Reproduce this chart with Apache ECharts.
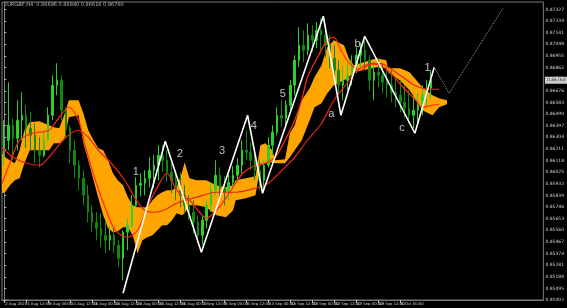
<!DOCTYPE html>
<html><head><meta charset="utf-8">
<script src="https://cdn.jsdelivr.net/npm/echarts@6/dist/echarts.min.js"></script>
<style>html,body{margin:0;padding:0;background:#000;}#c{width:567px;height:308px;}</style>
</head><body><div id="c"></div>
<script>
// ---- data (12h bars) ----
const titleText = 'EURGBP,H4  0.86696 0.86840 0.86616 0.86760';
const tickLabels = ['2 Aug 2023','4 Aug 12:00','9 Aug 00:00','11 Aug 12:00','16 Aug 00:00','18 Aug 12:00','23 Aug 00:00','25 Aug 12:00','30 Aug 00:00','1 Sep 12:00','6 Sep 00:00','8 Sep 12:00','13 Sep 00:00','15 Sep 12:00','20 Sep 00:00','22 Sep 12:00','27 Sep 00:00','29 Sep 12:00','4 Oct 00:00','6 Oct 12:00'];
const barCount = 123;
const barOpen = [0.86200,0.86280,0.86400,0.86296,0.86440,0.86480,0.86376,0.86320,0.86200,0.86160,
0.86280,0.86480,0.86720,0.86760,0.86520,0.86376,0.86200,0.86080,0.85976,0.85840,
0.85704,0.85624,0.85576,0.85520,0.85480,0.85520,0.85440,0.85336,0.85544,0.85600,
0.85760,0.85920,0.85936,0.85976,0.86040,0.86080,0.86160,0.86120,0.86024,0.85960,
0.85880,0.85840,0.85760,0.85704,0.85624,0.85520,0.85640,0.85760,0.85880,0.86000,
0.85896,0.85864,0.85944,0.86000,0.86080,0.86200,0.86184,0.86120,0.86040,0.85960,
0.86080,0.86240,0.86344,0.86480,0.86456,0.86560,0.86720,0.86920,0.87040,0.87000,
0.87120,0.87080,0.87160,0.87120,0.87040,0.86936,0.86840,0.86720,0.86760,0.86800,
0.86880,0.86960,0.87000,0.86920,0.86760,0.86824,0.86800,0.86744,0.86720,0.86664,
0.86640,0.86584,0.86536,0.86480,0.86520,0.86560,0.86640,0.86696];
const barClose = [0.86280,0.86400,0.86296,0.86440,0.86480,0.86376,0.86320,0.86200,0.86160,0.86280,
0.86480,0.86720,0.86760,0.86520,0.86376,0.86200,0.86080,0.85976,0.85840,0.85704,
0.85624,0.85576,0.85520,0.85480,0.85520,0.85440,0.85336,0.85544,0.85600,0.85760,
0.85920,0.85936,0.85976,0.86040,0.86080,0.86160,0.86120,0.86024,0.85960,0.85880,
0.85840,0.85760,0.85704,0.85624,0.85520,0.85640,0.85760,0.85880,0.86000,0.85896,
0.85864,0.85944,0.86000,0.86080,0.86200,0.86184,0.86120,0.86040,0.85960,0.86080,
0.86240,0.86344,0.86480,0.86456,0.86560,0.86720,0.86920,0.87040,0.87000,0.87120,
0.87080,0.87160,0.87120,0.87040,0.86936,0.86840,0.86720,0.86760,0.86800,0.86880,
0.86960,0.87000,0.86920,0.86760,0.86824,0.86800,0.86744,0.86720,0.86664,0.86640,
0.86584,0.86536,0.86480,0.86520,0.86560,0.86640,0.86696,0.86760];
const barLow = [0.86080,0.86200,0.86120,0.86200,0.86280,0.86216,0.86200,0.86096,0.86064,0.86144,
0.86280,0.86440,0.86640,0.86440,0.86304,0.86096,0.85976,0.85880,0.85760,0.85624,
0.85544,0.85480,0.85424,0.85376,0.85400,0.85376,0.85264,0.85160,0.85400,0.85576,
0.85744,0.85832,0.85840,0.85904,0.85896,0.85960,0.86024,0.85944,0.85856,0.85800,
0.85744,0.85696,0.85640,0.85536,0.85456,0.85440,0.85576,0.85704,0.85840,0.85816,
0.85760,0.85800,0.85880,0.85944,0.86016,0.86120,0.86040,0.85960,0.85880,0.85864,
0.86064,0.86160,0.86320,0.86384,0.86376,0.86520,0.86640,0.86864,0.86904,0.86960,
0.86984,0.87016,0.87000,0.86944,0.86856,0.86760,0.86640,0.86600,0.86680,0.86720,
0.86816,0.86864,0.86840,0.86680,0.86600,0.86704,0.86656,0.86624,0.86584,0.86544,
0.86504,0.86456,0.86416,0.86376,0.86400,0.86480,0.86560,0.86616];
const barHigh = [0.86440,0.86744,0.86456,0.86600,0.86664,0.86560,0.86504,0.86416,0.86304,0.86360,
0.86544,0.86800,0.86896,0.86800,0.86544,0.86400,0.86280,0.86120,0.86040,0.85920,
0.85760,0.85704,0.85696,0.85640,0.85592,0.85584,0.85480,0.85560,0.85656,0.85840,
0.85984,0.86016,0.86040,0.86144,0.86160,0.86240,0.86240,0.86200,0.86096,0.86024,
0.86024,0.85920,0.85840,0.85800,0.85680,0.85680,0.85800,0.85944,0.86120,0.86064,
0.85992,0.86016,0.86072,0.86136,0.86280,0.86360,0.86264,0.86176,0.86120,0.86120,
0.86304,0.86400,0.86544,0.86600,0.86600,0.86760,0.86960,0.87184,0.87160,0.87216,
0.87200,0.87224,0.87256,0.87200,0.87120,0.87040,0.86920,0.86872,0.86904,0.86960,
0.87024,0.87064,0.87080,0.86960,0.86904,0.86936,0.86896,0.86864,0.86840,0.86784,
0.86760,0.86720,0.86680,0.86640,0.86656,0.86720,0.86760,0.86840];

// fast red line (bar index, price)
const fastX = [-0.5,1.3,3.5,6.4,10.2,12.5,14.7,16.9,18.5,20.7,22.9,25.2,28.1,30.3,32.5,34.8,37.0,39.2,42.1,44.4,45.9,48.8,51.1,54.2,57.1,59.3,61.6,63.8,66.0,67.6,68.9,71.2,73.4,74.9,76.5,77.9,79.4,81.0,83.2,85.4,87.7,90.6,93.5,95.0,97.3,98.8];
const fastY = [0.85936,0.86096,0.86280,0.86336,0.86360,0.86464,0.86544,0.86440,0.86224,0.85960,0.85744,0.85560,0.85504,0.85560,0.85744,0.85904,0.86016,0.85880,0.85800,0.85704,0.85656,0.85744,0.85856,0.86016,0.86080,0.86096,0.86144,0.86280,0.86440,0.86600,0.86784,0.86944,0.87080,0.87104,0.87000,0.86920,0.86864,0.86840,0.86888,0.86880,0.86824,0.86704,0.86600,0.86544,0.86560,0.86568];
// slow red line
const slowX = [-0.5,2.0,5.1,8.0,10.9,14.0,16.9,19.1,21.4,24.3,27.4,29.6,31.9,34.1,36.3,39.2,43.7,48.2,52.6,57.1,60.0,63.1,66.0,68.9,72.1,74.9,77.9,79.4,81.6,83.9,86.1,88.3,90.6,92.8,95.0,97.3,98.8];
const slowY = [0.86224,0.86144,0.86096,0.86080,0.86176,0.86304,0.86360,0.86304,0.86200,0.86096,0.85960,0.85824,0.85720,0.85704,0.85720,0.85776,0.85824,0.85864,0.85864,0.85896,0.85936,0.86040,0.86144,0.86280,0.86416,0.86600,0.86736,0.86816,0.86872,0.86896,0.86888,0.86840,0.86784,0.86728,0.86696,0.86688,0.86688];
// cloud (kumo) edges
const cloudX = [-0.5,0.2,1.3,2.4,3.5,4.6,5.8,8.0,10.2,11.3,12.5,13.6,14.7,16.9,18.0,19.1,20.3,21.4,22.5,23.6,24.7,25.8,27.0,28.1,29.2,30.3,31.4,32.5,33.7,34.8,35.9,37.0,38.1,39.2,40.4,41.0,42.1,43.7,45.9,48.2,50.4,52.0,52.6,54.9,57.1,58.2,59.3,60.9,61.6,63.8,64.9,66.0,67.6,69.4,70.5,72.1,73.4,74.9,77.2,78.3,79.4,84.6,86.8,87.2,89.9,92.1,95.0,97.3,98.8,100.6];
const cloudUpper = [0.86176,0.86144,0.86120,0.86096,0.86200,0.86360,0.86424,0.86432,0.86400,0.86384,0.86376,0.86480,0.86600,0.86600,0.86496,0.86360,0.86280,0.86216,0.86200,0.86120,0.86016,0.85960,0.85920,0.85824,0.85760,0.85744,0.85744,0.85744,0.85800,0.85840,0.85864,0.85880,0.85880,0.85904,0.86024,0.86104,0.85976,0.85960,0.85960,0.85920,0.85904,0.85920,0.85960,0.85976,0.85992,0.86240,0.86256,0.86200,0.86120,0.86128,0.86336,0.86400,0.86600,0.86696,0.86784,0.86880,0.87024,0.87080,0.87040,0.86936,0.86880,0.86936,0.86920,0.86856,0.86856,0.86824,0.86704,0.86640,0.86616,0.86600];
const cloudLower = [0.85856,0.85864,0.85920,0.85960,0.85976,0.86096,0.86200,0.86200,0.86200,0.86256,0.86256,0.86280,0.86464,0.86480,0.86256,0.86120,0.85960,0.85816,0.85680,0.85576,0.85544,0.85552,0.85584,0.85584,0.85520,0.85376,0.85480,0.85504,0.85520,0.85560,0.85600,0.85600,0.85640,0.85696,0.85680,0.85696,0.85760,0.85760,0.85744,0.85680,0.85664,0.85720,0.85800,0.85816,0.85840,0.86080,0.86096,0.86104,0.86096,0.86096,0.86144,0.86200,0.86280,0.86440,0.86544,0.86576,0.86656,0.86720,0.86760,0.86784,0.86824,0.86864,0.86856,0.86824,0.86760,0.86680,0.86520,0.86480,0.86544,0.86568];
// wave zigzag and projection
const waveX = [27.0,36.6,44.8,55.3,58.7,72.5,76.5,81.9,93.3,97.7];
const waveY = [0.85056,0.86272,0.85384,0.86480,0.85856,0.87272,0.86480,0.87112,0.86336,0.86864];
const projX = [97.7,101.1,113.3];
const projY = [0.86864,0.86656,0.87336];
const waveLabelText = ['1','2','3','4','5','a','b','c','1'];
const waveLabelX = [29.9,39.9,49.5,56.7,63.3,74.3,80.3,90.4,96.2];
const waveLabelY = [0.86024,0.86168,0.86192,0.86392,0.86648,0.86488,0.87048,0.86376,0.86856];
const yMin = 0.85002, yMax = 0.87386, yStep = 0.00093;

// ---- chart ----
const categories = Array.from({length: barCount}, (_, i) => String(i));
const candles = barOpen.map((o, i) => [o, barClose[i], barLow[i], barHigh[i]]);
const pairs = (xs, ys) => xs.map((x, i) => [x, ys[i]]);
const showTick = (i) => i % 5 === 0 && i / 5 < tickLabels.length;
const lastClose = barClose[barClose.length - 1];

const chart = echarts.init(document.getElementById('c'), null, {renderer: 'canvas'});
chart.setOption({
  animation: false,
  backgroundColor: '#000000',
  textStyle: {fontFamily: 'DejaVu Sans'},
  grid: {left: 2, right: 14, top: 2, bottom: 8, show: true, borderColor: '#7a7a7a', borderWidth: 1, backgroundColor: '#000'},
  graphic: [{type: 'text', left: 4, top: 2, style: {text: titleText, fill: '#b8b8b8', fontSize: 5, fontFamily: 'DejaVu Sans'}}],
  xAxis: [{
    type: 'category', data: categories, boundaryGap: true,
    axisLine: {show: true, lineStyle: {color: '#7a7a7a'}},
    axisTick: {show: true, alignWithLabel: true, interval: showTick, length: 3, lineStyle: {color: '#bdbdbd'}},
    axisLabel: {interval: showTick, formatter: (v, i) => tickLabels[i / 5] || '', align: 'left', fontSize: 3.8, color: '#d0d0d0', margin: 2, padding: [0, 0, 0, 1], hideOverlap: false, showMinLabel: true},
    splitLine: {show: false}
  }, {
    type: 'value', min: -0.5, max: barCount - 0.5, show: false
  }],
  yAxis: {
    type: 'value', position: 'right', min: yMin, max: yMax, interval: yStep,
    axisLine: {show: true, lineStyle: {color: '#7a7a7a'}},
    axisTick: {show: true, length: 2, lineStyle: {color: '#bdbdbd'}},
    splitLine: {show: false},
    axisLabel: {color: '#d0d0d0', fontSize: 4.5, margin: 2, showMaxLabel: false, formatter: v => v.toFixed(5)}
  },
  series: [
    {
      type: 'custom', xAxisIndex: 1, z: 1, silent: true, data: [[50, 0.86]],
      renderItem: (params, api) => {
        const pts = [];
        for (let k = 0; k < cloudX.length; k++) pts.push(api.coord([cloudX[k], cloudUpper[k]]));
        for (let k = cloudX.length - 1; k >= 0; k--) pts.push(api.coord([cloudX[k], cloudLower[k]]));
        return {type: 'polygon', shape: {points: pts}, style: {fill: '#FFA500'}};
      }
    },
    {
      type: 'candlestick', z: 2, data: candles, barWidth: 2,
      itemStyle: {color: '#2ad12a', color0: '#0f8a0f', borderColor: '#2ad12a', borderColor0: '#0f8a0f', borderWidth: 1}
    },
    {type: 'line', xAxisIndex: 1, z: 3, data: pairs(slowX, slowY), symbol: 'none', smooth: 0.3, lineStyle: {color: '#e8231b', width: 1.2}},
    {type: 'line', xAxisIndex: 1, z: 3, data: pairs(fastX, fastY), symbol: 'none', smooth: 0.3, lineStyle: {color: '#ff2a1a', width: 1.2}},
    {type: 'line', xAxisIndex: 1, z: 4, data: pairs(waveX, waveY), symbol: 'none', lineStyle: {color: '#ffffff', width: 1.6}},
    {type: 'line', xAxisIndex: 1, z: 4, data: pairs(projX, projY), symbol: 'none', lineStyle: {color: '#a0a0a0', width: 1, type: 'dotted'}},
    {
      type: 'scatter', xAxisIndex: 1, z: 5, symbol: 'circle', symbolSize: 1, itemStyle: {color: 'rgba(0,0,0,0)'},
      data: pairs(waveLabelX, waveLabelY),
      label: {show: true, position: 'inside', formatter: p => waveLabelText[p.dataIndex], color: '#ececec', fontSize: 11, fontFamily: 'Liberation Sans'}
    },
    {
      type: 'scatter', xAxisIndex: 1, z: 6, symbol: 'circle', symbolSize: 1, itemStyle: {color: 'rgba(0,0,0,0)'},
      clip: false,
      data: [[barCount - 0.5, lastClose]],
      label: {show: true, position: 'right', distance: 1, formatter: p => p.value[1].toFixed(5), backgroundColor: '#ffffff', color: '#000000', fontSize: 4.5, padding: [1, 2]}
    }
  ]
});
</script></body></html>
